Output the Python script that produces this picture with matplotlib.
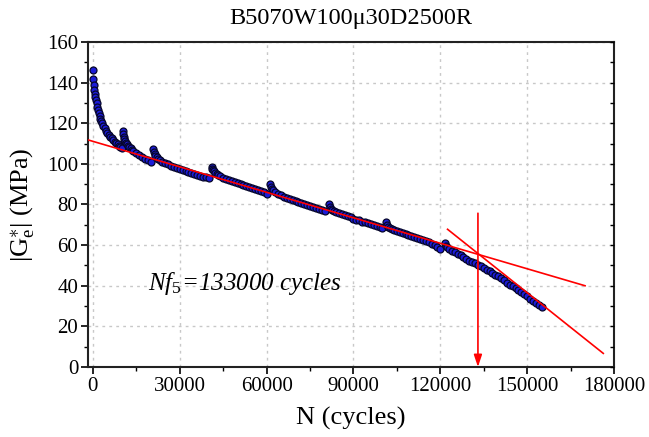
import matplotlib
matplotlib.use("Agg")
import matplotlib.pyplot as plt
from matplotlib.ticker import MultipleLocator

plt.rcParams['font.family'] = ['Liberation Serif', 'DejaVu Serif']
plt.rcParams['mathtext.fontset'] = 'custom'
plt.rcParams['mathtext.rm'] = 'Liberation Serif'
plt.rcParams['mathtext.it'] = 'Liberation Serif:italic'
plt.rcParams['mathtext.bf'] = 'Liberation Serif:bold'

# ---- data ----
n_seg1 = [0, 150, 300, 450, 600, 800, 1000, 1250, 1500, 1750, 2000, 2300, 2600, 2900, 3200,
          3600, 4000, 4500, 5000, 5500, 6000, 6500, 7000, 7500, 8000, 8500, 9000, 9500, 10000]
g_seg1 = [146.2, 141.6, 138.8, 136.4, 134.6, 133.0, 131.6, 129.8, 128.2, 126.6, 125.2, 123.6,
          122.2, 121.0, 119.9, 118.6, 117.5, 116.3, 115.2, 114.2, 113.3, 112.5, 111.8, 111.0,
          110.3, 109.6, 109.0, 108.5, 108.0]

n_seg2 = [10400, 10550, 10700, 10900, 11100, 11400, 11700, 12000, 12500, 13000, 13500, 14000,
          15000, 16000, 17000, 18000, 19000, 20000]
g_seg2 = [116.4, 114.8, 113.4, 112.2, 111.3, 110.4, 109.6, 109.0, 108.3, 107.6, 107.0, 106.4,
          105.3, 104.3, 103.4, 102.6, 101.8, 101.1]

n_seg3 = [20900, 21100, 21300, 21600, 22000, 22500, 23000, 24000, 25000, 26000, 27000, 28000,
          29000, 30000, 31000, 32000, 33000, 34000, 35000, 36000, 37000, 38000, 39000, 40000]
g_seg3 = [107.2, 106.0, 105.1, 104.1, 103.2, 102.5, 101.9, 101.0, 100.3, 99.7, 99.1, 98.5,
          98.0, 97.5, 97.0, 96.5, 96.0, 95.5, 95.0, 94.6, 94.1, 93.7, 93.4, 93.1]

n_seg4 = [41000, 41200, 41500, 41800, 42200, 42700, 43300, 44000, 45000, 46000, 47000, 48000,
          49000, 50000, 51000, 52000, 53000, 54000, 55000, 56000, 57000, 58000, 59000, 60000]
g_seg4 = [98.6, 97.6, 96.9, 96.3, 95.7, 95.0, 94.4, 93.9, 93.2, 92.6, 92.0, 91.5,
          91.1, 90.6, 90.1, 89.6, 89.2, 88.7, 88.2, 87.7, 87.1, 86.6, 86.0, 85.3]

n_seg5 = [61100, 61400, 61800, 62300, 63000, 64000, 65000, 66000, 67000, 68000, 69000, 70000,
          71000, 72000, 73000, 74000, 75000, 76000, 77000, 78000, 79000, 80000]
g_seg5 = [90.1, 88.8, 87.8, 86.9, 86.0, 85.2, 84.5, 83.9, 83.3, 82.8, 82.2, 81.7,
          81.2, 80.8, 80.3, 79.8, 79.3, 78.8, 78.3, 77.8, 77.4, 76.9]

n_seg6 = [81500, 81800, 82200, 82700, 83300, 84000, 85000, 86000, 87000, 88000, 89000, 90000,
          91000, 92000, 93000, 94000, 95000, 96000, 97000, 98000, 99000, 100000]
g_seg6 = [80.0, 78.9, 78.0, 77.3, 76.7, 76.2, 75.6, 75.1, 74.7, 74.1, 73.6, 73.1,
          72.6, 72.2, 71.6, 71.2, 70.7, 70.3, 69.8, 69.3, 68.8, 68.3]

n_seg7 = [101400, 101700, 102100, 102600, 103200, 104000, 105000, 106000, 107000, 108000, 109000,
          110000, 111000, 112000, 113000, 114000, 115000, 116000, 117000, 118000, 119000, 120000]
g_seg7 = [71.2, 70.0, 69.0, 68.3, 67.8, 67.3, 66.8, 66.3, 65.9, 65.4, 64.9,
          64.5, 64.0, 63.6, 63.1, 62.5, 61.9, 61.3, 60.6, 59.9, 59.1, 58.2]

n_seg8 = [121500, 121800, 122200, 123000, 124000, 125000, 126000, 127000, 128000, 129000, 130000,
          131000, 132000, 133000, 134000, 135000, 136000, 137000, 138000, 139000, 140000, 141000,
          142000, 143000, 144000, 145000, 146000, 147000, 148000, 149000, 150000, 151000, 152000,
          153000, 154000, 155000]
g_seg8 = [61.0, 59.8, 59.0, 58.2, 57.3, 56.5, 55.7, 54.9, 54.1, 53.2, 52.4,
          51.7, 51.0, 50.3, 49.6, 48.8, 48.0, 47.1, 46.2, 45.4, 44.6, 43.7,
          42.6, 41.5, 40.5, 39.7, 38.8, 37.8, 36.8, 35.8, 34.8, 33.7, 32.6,
          31.5, 30.4, 29.4]

fit1_n = [-1700, 170000]
fit1_g = [111.8, 40.0]
fit2_n = [122500, 176300]
fit2_g = [67.8, 6.7]
nf5 = 133000
arrow_top = 75.7

segments_n = [n_seg1, n_seg2, n_seg3, n_seg4, n_seg5, n_seg6, n_seg7, n_seg8]
segments_g = [g_seg1, g_seg2, g_seg3, g_seg4, g_seg5, g_seg6, g_seg7, g_seg8]

fig = plt.figure(figsize=(6.49, 4.37), dpi=100)
ax = fig.add_axes([88/649, 70/437, (614-88)/649, (367-42)/437])

for sn, sg in zip(segments_n, segments_g):
    ax.plot(sn, sg, linestyle='none', marker='o', markersize=5.0,
            markerfacecolor='#1c1cd8', markeredgecolor='#06062a', markeredgewidth=0.9, zorder=3)

ax.plot(fit1_n, fit1_g, color='red', linewidth=1.2, zorder=4)
ax.plot(fit2_n, fit2_g, color='red', linewidth=1.2, zorder=4)
ax.annotate('', xy=(nf5, 0), xytext=(nf5, arrow_top),
            arrowprops=dict(arrowstyle='-|>,head_length=0.6,head_width=0.2', color='red', lw=1.2,
                            mutation_scale=12, shrinkA=0, shrinkB=0), zorder=5)

ax.text(19000, 41, r'$\mathit{Nf_5}$=133000 cycles', fontsize=18, fontstyle='italic',
        ha='left', va='center')

ax.set_xlim(-1700, 180000)
ax.set_ylim(0, 160)
ax.xaxis.set_major_locator(MultipleLocator(30000))
ax.xaxis.set_minor_locator(MultipleLocator(15000))
ax.yaxis.set_major_locator(MultipleLocator(20))
ax.yaxis.set_minor_locator(MultipleLocator(10))
ax.grid(True, which='major', color='#c8c8c8', linestyle=(0, (2, 3)), linewidth=1.0)
ax.set_axisbelow(True)

ax.tick_params(axis='both', which='major', direction='out', length=5, width=1.2,
               labelsize=15, top=False, right=False, pad=2)
ax.tick_params(axis='both', which='minor', direction='out', length=3, width=1.0,
               top=False, right=False)
for s in ax.spines.values():
    s.set_linewidth(1.5)
    s.set_color('#222222')

ax2 = ax.twinx()
ax2.set_ylim(0, 160)
ax2.yaxis.set_major_locator(MultipleLocator(20))
ax2.yaxis.set_minor_locator(MultipleLocator(10))
ax2.tick_params(axis='y', which='both', direction='in', length=3, width=1.0, labelright=False)
for s in ax2.spines.values():
    s.set_visible(False)

ax.set_title('B5070W100μ30D2500R', fontsize=17.5, pad=13)
ax.set_xlabel('N (cycles)', fontsize=19, labelpad=8)
ax.set_ylabel(r'$|\mathrm{G}_{\mathrm{e}}^{\ast}|$ (MPa)', fontsize=19, labelpad=8)

fig.savefig('out.png', dpi=100)
